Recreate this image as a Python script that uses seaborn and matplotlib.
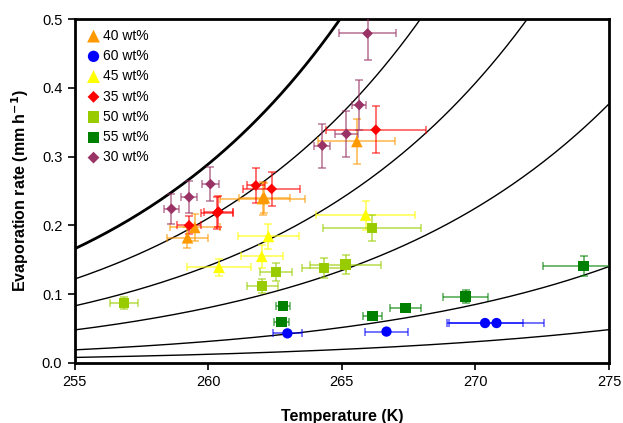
import numpy as np
import pandas as pd
import matplotlib
matplotlib.use("Agg")
import matplotlib.pyplot as plt
import seaborn as sns

# Measured points per concentration: temperature (K), rate (mm/h), x error, y error
groups = ["40 wt%", "60 wt%", "45 wt%", "35 wt%", "50 wt%", "55 wt%", "30 wt%"]

t_40 = [259.22, 259.49, 262.03, 262.10, 265.56]
e_40 = [0.182, 0.197, 0.239, 0.240, 0.322]
tx_40 = [0.78, 0.94, 1.60, 0.95, 1.44]
ey_40 = [0.015, 0.019, 0.024, 0.022, 0.033]

t_60 = [262.96, 266.67, 270.36, 270.79]
e_60 = [0.043, 0.0456, 0.058, 0.058]
tx_60 = [0.53, 0.81, 1.43, 1.77]
ey_60 = [0.003, 0.003, 0.003, 0.003]

t_45 = [260.40, 262.00, 262.25, 265.89]
e_45 = [0.139, 0.155, 0.184, 0.215]
tx_45 = [1.19, 0.78, 1.14, 1.85]
ey_45 = [0.012, 0.017, 0.018, 0.021]

t_35 = [259.28, 260.33, 260.38, 261.78, 262.37, 266.27]
e_35 = [0.200, 0.218, 0.220, 0.258, 0.253, 0.339]
tx_35 = [0.45, 0.61, 0.55, 0.35, 1.06, 1.87]
ey_35 = [0.013, 0.023, 0.022, 0.025, 0.025, 0.034]

t_50 = [256.84, 262.02, 262.53, 264.33, 265.14, 266.14]
e_50 = [0.087, 0.112, 0.132, 0.138, 0.143, 0.196]
tx_50 = [0.52, 0.59, 0.61, 0.82, 1.32, 1.83]
ey_50 = [0.009, 0.010, 0.013, 0.014, 0.014, 0.019]

t_55 = [262.80, 262.74, 266.15, 267.38, 269.63, 274.05]
e_55 = [0.083, 0.060, 0.068, 0.080, 0.0965, 0.141]
tx_55 = [0.27, 0.27, 0.36, 0.59, 0.85, 1.53]
ey_55 = [0.005, 0.005, 0.005, 0.006, 0.010, 0.014]

t_30 = [258.62, 259.28, 260.08, 264.27, 265.17, 265.65, 265.96]
e_30 = [0.224, 0.241, 0.260, 0.316, 0.333, 0.375, 0.479]
tx_30 = [0.29, 0.31, 0.33, 0.30, 0.44, 0.26, 1.07]
ey_30 = [0.022, 0.023, 0.025, 0.032, 0.033, 0.037, 0.038]

# Model curves: rate at 255 K and exponential growth per K
curve_start = [0.166, 0.122, 0.083, 0.048, 0.019, 0.008]
curve_rate = [0.111, 0.109, 0.106, 0.103, 0.0999, 0.090]

colors = {"40 wt%": "#FF9900", "60 wt%": "#0000FF", "45 wt%": "#FFFF00",
          "35 wt%": "#FF0000", "50 wt%": "#99CC00", "55 wt%": "#008000",
          "30 wt%": "#993366"}
markers = {"40 wt%": "^", "60 wt%": "o", "45 wt%": "^", "35 wt%": "D",
           "50 wt%": "s", "55 wt%": "s", "30 wt%": "D"}
msize = {"^": 70, "o": 55, "D": 30, "s": 55}

data = {"40 wt%": (t_40, e_40, tx_40, ey_40), "60 wt%": (t_60, e_60, tx_60, ey_60),
        "45 wt%": (t_45, e_45, tx_45, ey_45), "35 wt%": (t_35, e_35, tx_35, ey_35),
        "50 wt%": (t_50, e_50, tx_50, ey_50), "55 wt%": (t_55, e_55, tx_55, ey_55),
        "30 wt%": (t_30, e_30, tx_30, ey_30)}

sns.set_style("white")
plt.rcParams["font.family"] = ["Liberation Sans", "DejaVu Sans"]
plt.rcParams["text.color"] = "black"
plt.rcParams["axes.labelcolor"] = "black"
plt.rcParams["xtick.color"] = "black"
plt.rcParams["ytick.color"] = "black"

fig = plt.figure(figsize=(6.23, 4.23), dpi=100)
ax = fig.add_axes([0.120, 0.142, 0.8575, 0.813])

# model curves
temps = np.linspace(255, 275, 200)
for i, (a, b) in enumerate(zip(curve_start, curve_rate)):
    cdf = pd.DataFrame({"T": temps, "E": a * np.exp(b * (temps - 255))})
    sns.lineplot(data=cdf, x="T", y="E", color="black",
                 linewidth=2.0 if i == 0 else 1.0, ax=ax, zorder=2)

for g in groups:
    t, e, tx, ey = data[g]
    ax.errorbar(t, e, xerr=tx, yerr=ey, fmt="none", ecolor=colors[g],
                alpha=0.6, elinewidth=1.3, capsize=3, capthick=1.2, zorder=3)
    df = pd.DataFrame({"T": t, "E": e})
    sns.scatterplot(data=df, x="T", y="E", color=colors[g], marker=markers[g],
                    s=msize[markers[g]], edgecolor="none", label=g, ax=ax, zorder=4)

ax.set_xlim(255, 275)
ax.set_ylim(0, 0.5)
ax.set_xticks([255, 260, 265, 270, 275])
ax.set_yticks([0.0, 0.1, 0.2, 0.3, 0.4, 0.5])
ax.yaxis.set_major_formatter(matplotlib.ticker.FormatStrFormatter("%.1f"))
ax.tick_params(axis="both", direction="out", length=5, width=1.2, labelsize=10.5,
               left=True, bottom=True, color="black", labelcolor="black", pad=4)
for side in ["left", "bottom", "top", "right"]:
    ax.spines[side].set_color("black")
    ax.spines[side].set_linewidth(2.0)
ax.set_xlabel("Temperature (K)", fontsize=11.5, fontweight="bold", labelpad=14)
ax.set_ylabel("Evaporation rate (mm h$^\\mathbf{-1}$)", fontsize=11.5,
              fontweight="bold", labelpad=8)

leg = ax.legend(loc="upper left", frameon=False, fontsize=10, handletextpad=0.05,
                handlelength=1.3, labelspacing=0.45, borderaxespad=0.3,
                bbox_to_anchor=(0.0, 1.0), markerscale=1.1)
for txt in leg.get_texts():
    txt.set_color("black")

fig.savefig("out.png", dpi=100)
